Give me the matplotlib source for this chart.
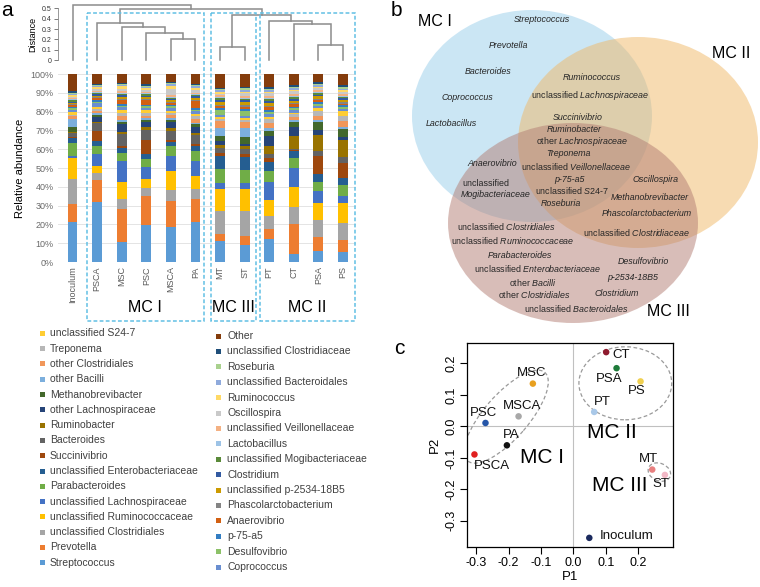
import matplotlib
matplotlib.use('Agg')
import matplotlib.pyplot as plt
from matplotlib.patches import Ellipse, Rectangle
import numpy as np

plt.rcParams['font.family'] = ['Liberation Sans', 'DejaVu Sans']
plt.rcParams['mathtext.fontset'] = 'custom'
plt.rcParams['mathtext.it'] = 'Liberation Sans:italic'
plt.rcParams['mathtext.rm'] = 'Liberation Sans'
plt.rcParams['axes.unicode_minus'] = False

# ---------------- data: panel a ----------------
samples = ["Inoculum", "PSCA", "MSC", "PSC", "MSCA", "PA", "MT", "ST", "PT", "CT", "PSA", "PS"]

taxa = ["Streptococcus", "Prevotella", "unclassified Clostridiales", "unclassified Ruminococcaceae",
        "unclassified Lachnospiraceae", "Parabacteroides", "unclassified Enterobacteriaceae",
        "Succinivibrio", "Bacteroides", "Ruminobacter", "other Lachnospiraceae", "Methanobrevibacter",
        "other Bacilli", "other Clostridiales", "Treponema", "unclassified S24-7",
        "Coprococcus", "Desulfovibrio", "p-75-a5", "Anaerovibrio", "Phascolarctobacterium",
        "unclassified p-2534-18B5", "Clostridium", "unclassified Mogibacteriaceae", "Lactobacillus",
        "unclassified Veillonellaceae", "Oscillospira", "Ruminococcus", "unclassified Bacteroidales",
        "Roseburia", "unclassified Clostridiaceae", "Other"]

taxa_colors = ["#5B9BD5", "#ED7D31", "#A5A5A5", "#FFC000", "#4472C4", "#70AD47", "#255E91",
               "#9E480E", "#636363", "#997300", "#264478", "#43682B", "#7CAFDD", "#F1975A",
               "#B7B7B7", "#FFCD33", "#698ED0", "#8CC168", "#327DC2", "#D26012", "#848484",
               "#CC9A00", "#335AA1", "#5A8A39", "#9DC3E6", "#F4B183", "#C9C9C9", "#FFD966",
               "#8FAADC", "#A9D18E", "#1F4E79", "#843C0C"]

# relative abundance (%) per sample, in the order of `taxa`
ab_inoculum = [21.3, 9.3, 13.5, 11.0, 1.4, 7.0, 2.6, 0.2, 2.4, 0.2, 0.3, 2.8, 3.9, 1.6, 0.6, 1.8,
               1.0, 0.8, 1.0, 0.6, 0.6, 0.8, 0.6, 0.8, 0.5, 0.5, 0.8, 0.8, 0.8, 0.6, 1.1, 8.8]
ab_psca = [32.0, 11.4, 3.8, 3.8, 6.3, 4.4, 2.5, 5.7, 3.9, 0.5, 2.6, 1.2, 1.0, 1.2, 1.2, 1.2,
           1.8, 0.8, 0.8, 1.0, 0.6, 0.8, 0.8, 0.6, 0.6, 0.6, 0.8, 1.0, 0.8, 0.5, 0.6, 5.2]
ab_msc = [10.8, 17.2, 5.6, 8.7, 11.5, 4.2, 2.7, 1.0, 6.5, 0.9, 4.3, 1.0, 1.2, 1.8, 2.0, 1.5,
          1.5, 0.8, 1.0, 1.8, 0.8, 1.0, 0.8, 0.8, 0.6, 0.8, 1.2, 1.5, 0.6, 0.5, 0.6, 4.8]
ab_psc = [19.6, 15.4, 4.3, 4.9, 6.1, 4.4, 2.5, 7.8, 5.3, 1.4, 2.6, 1.2, 1.0, 1.4, 1.4, 1.4,
          1.4, 0.8, 0.8, 2.4, 0.8, 0.8, 0.8, 0.6, 0.6, 0.6, 1.0, 1.2, 0.8, 0.5, 0.8, 5.4]
ab_msca = [18.7, 13.6, 5.8, 10.3, 8.1, 5.0, 2.3, 1.2, 4.9, 1.3, 3.1, 1.2, 1.0, 1.5, 1.2, 1.2,
           1.6, 0.8, 0.8, 0.8, 0.8, 0.8, 0.6, 0.6, 0.6, 0.8, 3.5, 1.6, 0.8, 0.5, 0.6, 4.4]
ab_pa = [21.3, 12.3, 5.2, 7.0, 7.9, 5.2, 2.8, 1.2, 4.4, 1.2, 3.2, 1.5, 1.0, 1.8, 1.5, 1.2,
         1.5, 0.8, 1.0, 3.5, 0.8, 1.0, 0.8, 0.6, 0.6, 0.8, 1.2, 1.5, 0.8, 0.5, 0.8, 5.1]
ab_mt = [11.4, 3.5, 12.2, 11.7, 3.2, 7.5, 6.8, 1.7, 2.7, 1.4, 2.1, 2.6, 4.4, 4.0, 0.8, 1.0,
         1.2, 2.5, 1.2, 1.0, 0.8, 1.5, 1.0, 0.8, 0.6, 1.0, 1.0, 0.8, 1.2, 0.6, 0.6, 7.2]
ab_st = [9.1, 4.9, 13.1, 11.7, 3.2, 7.0, 6.9, 1.8, 2.6, 1.4, 1.2, 3.5, 4.8, 3.5, 0.8, 1.0,
         1.4, 2.2, 1.5, 1.0, 0.8, 1.5, 1.2, 0.8, 0.6, 1.0, 1.2, 0.8, 1.2, 0.6, 0.6, 7.1]
ab_pt = [12.2, 5.6, 6.7, 8.7, 9.6, 5.6, 4.6, 2.4, 1.8, 4.3, 5.3, 3.1, 1.3, 2.6, 2.2, 1.3,
         1.4, 1.2, 1.0, 1.4, 0.8, 1.6, 1.2, 1.0, 0.6, 1.0, 1.2, 0.8, 1.0, 0.6, 1.0, 6.9]
ab_ct = [4.0, 16.1, 9.1, 10.7, 10.3, 5.2, 3.5, 0.7, 0.7, 6.5, 4.9, 2.6, 1.2, 1.4, 1.6, 1.0,
         1.4, 0.8, 1.0, 1.2, 0.8, 1.0, 1.0, 1.0, 0.6, 1.0, 1.4, 0.8, 1.0, 0.6, 0.8, 6.1]
ab_psa = [5.8, 7.7, 8.7, 9.3, 6.4, 4.9, 3.9, 9.8, 2.6, 8.2, 3.0, 4.0, 1.2, 2.4, 2.6, 1.2,
          1.2, 1.4, 0.8, 1.0, 0.8, 1.2, 0.8, 0.8, 0.6, 1.0, 1.0, 0.8, 0.8, 0.6, 1.2, 4.3]
ab_ps = [5.2, 6.7, 9.1, 10.5, 3.8, 5.8, 3.8, 7.9, 2.8, 9.4, 1.4, 4.4, 1.2, 3.1, 2.6, 2.4,
         1.2, 1.2, 0.8, 1.0, 0.8, 1.2, 0.8, 0.8, 0.6, 1.0, 1.0, 0.8, 0.8, 0.8, 1.0, 6.1]

# dendrogram merges: (child a, child b, distance)
dendro_merges = [("MSCA", "PA", 0.20), ("PSC", "n0", 0.26), ("MSC", "n1", 0.32), ("PSCA", "n2", 0.36),
                 ("MT", "ST", 0.125), ("PSA", "PS", 0.147), ("CT", "n5", 0.35), ("PT", "n6", 0.38),
                 ("n4", "n7", 0.435), ("n3", "n8", 0.49), ("Inoculum", "n9", 0.53)]

# ---------------- data: panel c ----------------
pca_labels = ["Inoculum", "PSCA", "MSC", "PSC", "MSCA", "PA", "MT", "ST", "PT", "CT", "PSA", "PS"]
pc1 = [0.049, -0.305, -0.125, -0.271, -0.169, -0.205, 0.243, 0.282, 0.064, 0.101, 0.133, 0.207]
pc2 = [-0.354, -0.089, 0.136, 0.011, 0.032, -0.060, -0.137, -0.154, 0.046, 0.236, 0.185, 0.143]
pca_colors = ["#1B2A5E", "#E02020", "#E8A020", "#2556A8", "#A8A8A8", "#111111",
              "#E88080", "#F2B8C6", "#A9C8E8", "#8E1B2E", "#1E7B3A", "#F0D050"]
pca_label_offsets = [(10, 1.5, 'left'), (17, -12, 'center'), (-1, 11, 'center'), (-2, 10, 'center'),
                     (3.5, 10, 'center'), (4, 10, 'center'), (-4, 10.5, 'center'), (-4, -9, 'center'),
                     (8, 10, 'center'), (15, -3, 'center'), (-7, -11, 'center'), (-4, -10, 'center')]

W, H = 760, 587
fig = plt.figure(figsize=(7.6, 5.87), dpi=100)

def fx(px):
    return px / W

def fy(py):
    return 1 - py / H

# ---------------- panel a: bars ----------------
ax = fig.add_axes([fx(58), fy(262), fx(298), 188 / H])
ax.set_facecolor('none')
mat = np.array([ab_inoculum, ab_psca, ab_msc, ab_psc, ab_msca, ab_pa,
                ab_mt, ab_st, ab_pt, ab_ct, ab_psa, ab_ps])
xpos = np.arange(len(samples))
bottom = np.zeros(len(samples))
for i, t in enumerate(taxa):
    ax.bar(xpos, mat[:, i], bottom=bottom, width=0.4, color=taxa_colors[i], linewidth=0, zorder=2)
    bottom += mat[:, i]
ax.set_xlim(-0.59, 11.53)
ax.set_ylim(0, 100)
ax.set_yticks(np.arange(0, 101, 10))
ax.set_yticklabels([f"{v}%" for v in range(0, 101, 10)], fontsize=6.5, color='#6A6A6A')
ax.set_xticks(xpos)
ax.set_xticklabels(samples, rotation=90, fontsize=6.5, color='#595959')
ax.tick_params(length=0, pad=3)
ax.grid(axis='y', color='#E4E4E4', linewidth=0.7, zorder=0)
for s in ax.spines.values():
    s.set_visible(False)
ax.set_ylabel("Relative abundance", fontsize=8, labelpad=4)

# ---------------- panel a: dendrogram ----------------
axd = fig.add_axes([fx(58), fy(60.3), fx(298), 52 / H])
axd.set_facecolor('none')
axd.set_xlim(-0.59, 11.53)
axd.set_ylim(0, 0.5)
pos = {s: (i, 0.0) for i, s in enumerate(samples)}
for k, (a, b, h) in enumerate(dendro_merges):
    xa, ha = pos[a]
    xb, hb = pos[b]
    axd.plot([xa, xa, xb, xb], [ha, h, h, hb], color='#8C8C8C', lw=1.1, clip_on=False,
             solid_joinstyle='miter')
    pos[f"n{k}"] = ((xa + xb) / 2, h)
axd.set_yticks([0, 0.1, 0.2, 0.3, 0.4, 0.5])
axd.set_yticklabels(["0", "0.1", "0.2", "0.3", "0.4", "0.5"], fontsize=5, color='#333333')
axd.tick_params(axis='y', length=3, width=0.6, color='#666666', pad=1.5)
axd.set_xticks([])
for s in ['top', 'right', 'bottom']:
    axd.spines[s].set_visible(False)
axd.spines['left'].set_color('#888888')
axd.spines['left'].set_linewidth(0.6)
axd.set_ylabel("Distance", fontsize=6.5, labelpad=3)

# ---------------- panel c: PCoA ----------------
axc = fig.add_axes([fx(467), fy(547), fx(206), 204 / H])
axc.set_xlim(-0.328, 0.307)
axc.set_ylim(-0.383, 0.265)
axc.axhline(0, color='#C0C0C0', lw=0.8, zorder=0)
axc.axvline(0, color='#C0C0C0', lw=0.8, zorder=0)
axc.scatter(pc1, pc2, s=22, c=pca_colors, zorder=3, linewidths=0)
for i, lab in enumerate(pca_labels):
    dx, dy, ha = pca_label_offsets[i]
    axc.annotate(lab, (pc1[i], pc2[i]), xytext=(dx, dy), textcoords='offset pixels',
                 ha=ha, va='center', fontsize=9.5, color='#111111')
axc.add_patch(Ellipse((-0.207, 0.031), 0.368, 0.138, angle=50, fill=False,
                      ls=(0, (3, 2)), ec='#9A9A9A', lw=0.9))
axc.add_patch(Ellipse((0.160, 0.137), 0.286, 0.232, angle=0, fill=False,
                      ls=(0, (3, 2)), ec='#9A9A9A', lw=0.9))
axc.add_patch(Ellipse((0.265, -0.145), 0.072, 0.055, angle=-25, fill=False,
                      ls=(0, (3, 2)), ec='#9A9A9A', lw=0.9))
axc.text(-0.097, -0.100, "MC I", fontsize=15, ha='center', va='center')
axc.text(0.120, -0.019, "MC II", fontsize=15, ha='center', va='center')
axc.text(0.142, -0.188, "MC III", fontsize=15, ha='center', va='center')
axc.set_xticks([-0.3, -0.2, -0.1, 0.0, 0.1, 0.2])
axc.set_xticklabels(["-0.3", "-0.2", "-0.1", "0.0", "0.1", "0.2"])
axc.set_yticks([-0.3, -0.2, -0.1, 0.0, 0.1, 0.2])
axc.set_yticklabels(["-0.3", "-0.2", "-0.1", "0.0", "0.1", "0.2"], rotation=90, va='center')
axc.tick_params(labelsize=9, length=5, width=0.8, direction='out', pad=2)
for s in axc.spines.values():
    s.set_linewidth(0.9)
axc.set_xlabel("P1", fontsize=9.5, labelpad=2)
axc.set_ylabel("P2", fontsize=9.5, labelpad=3)

# ---------------- overlay (boxes, legend, Venn, panel letters) ----------------
axo = fig.add_axes([0, 0, 1, 1])
axo.set_xlim(0, W)
axo.set_ylim(H, 0)
axo.axis('off')

for (x0, x1) in [(87, 204), (211, 256), (260, 355)]:
    axo.add_patch(Rectangle((x0, 12.5), x1 - x0, 308, fill=False, ec='#62C0E4',
                            lw=1.1, ls=(0, (2.5, 1.5))))
axo.text(145, 308, "MC I", fontsize=11.5, ha='center', va='center')
axo.text(233, 308, "MC III", fontsize=11.5, ha='center', va='center')
axo.text(307, 308, "MC II", fontsize=11.5, ha='center', va='center')

axo.text(7, 10, "a", fontsize=15, ha='center', va='center')
axo.text(396, 10, "b", fontsize=15, ha='center', va='center')
axo.text(399, 349, "c", fontsize=15, ha='center', va='center')

# legend
for k, idx in enumerate(range(15, -1, -1)):
    y = 333.3 + k * 15.3
    axo.add_patch(Rectangle((39.5, y - 2.5), 5, 5, color=taxa_colors[idx], lw=0))
    axo.text(50, y, taxa[idx], fontsize=7.5, va='center', ha='left', color='#404040')
for k, idx in enumerate(range(31, 15, -1)):
    y = 336 + k * 15.4
    axo.add_patch(Rectangle((215.5, y - 2.5), 5, 5, color=taxa_colors[idx], lw=0))
    axo.text(227, y, taxa[idx], fontsize=7.5, va='center', ha='left', color='#404040')

# Venn diagram
axo.add_patch(Ellipse((532, 116), 240, 212, color='#8DC8E8', alpha=0.45, lw=0))
axo.add_patch(Ellipse((638, 142.5), 240, 211, color='#F0B866', alpha=0.5, lw=0))
axo.add_patch(Ellipse((573, 223), 250, 200, color='#B37D73', alpha=0.5, lw=0))
axo.text(435, 22, "MC I", fontsize=11.5, ha='center', va='center')
axo.text(731, 54, "MC II", fontsize=11.5, ha='center', va='center')
axo.text(668, 312, "MC III", fontsize=11.5, ha='center', va='center')

venn_items = [
    ("Streptococcus", 542, 20, True), ("Prevotella", 508, 46, True), ("Bacteroides", 488, 71, True),
    ("Coprococcus", 467, 97, True), ("Lactobacillus", 451, 123, True),
    ("Ruminococcus", 592, 78, True), (r"unclassified $\mathit{Lachnospiraceae}$", 590, 96, False),
    ("Succinivibrio", 578, 118, True), ("Ruminobacter", 574, 130, True),
    (r"other $\mathit{Lachnospiraceae}$", 582, 142, False), ("Treponema", 568, 154, True),
    (r"unclassified $\mathit{Veillonellaceae}$", 576, 167, False), ("p-75-a5", 569, 179, True),
    (r"unclassified $\mathit{S24}$-$\mathit{7}$", 572, 191, False), ("Roseburia", 561, 203, True),
    ("Anaerovibrio", 492, 163, True),
    ("Oscillospira", 656, 179, True), ("Methanobrevibacter", 650, 197, True),
    ("Phascolarctobacterium", 647, 214, True), (r"unclassified $\mathit{Clostridiaceae}$", 636, 232, False),
    (r"unclassified $\mathit{Clostridiales}$", 506, 226, False),
    (r"unclassified $\mathit{Ruminococcaceae}$", 513, 241, False),
    ("Parabacteroides", 520, 255, True),
    (r"unclassified $\mathit{Enterobacteriaceae}$", 538, 269, False),
    (r"other $\mathit{Bacilli}$", 533, 283, False), (r"other $\mathit{Clostridiales}$", 534, 295, False),
    (r"unclassified $\mathit{Bacteroidales}$", 576, 309, False),
    ("Desulfovibrio", 643, 261, True), ("p-2534-18B5", 633, 277, True), ("Clostridium", 617, 293, True),
]
for txt, x, y, ital in venn_items:
    axo.text(x, y, txt, fontsize=6.4, ha='center', va='center', color='#262626',
             style='italic' if ital else 'normal')
axo.text(462, 183, "unclassified", fontsize=6.4, ha='left', va='center', color='#262626')
axo.text(461, 194.5, "Mogibacteriaceae", fontsize=6.4, ha='left', va='center', color='#262626',
         style='italic')

fig.savefig("out.png", dpi=100)
